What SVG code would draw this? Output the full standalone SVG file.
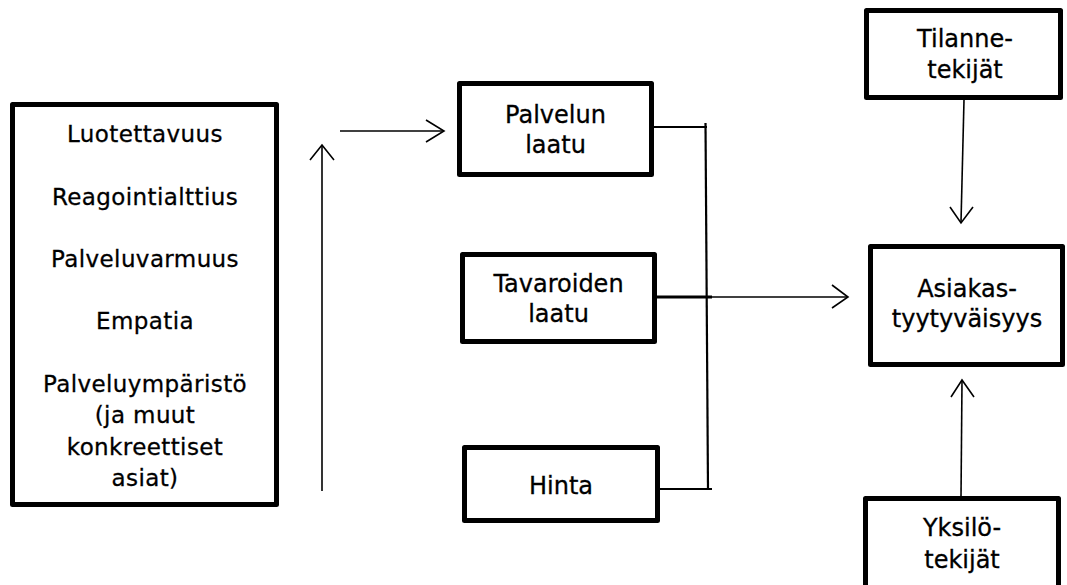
<svg xmlns="http://www.w3.org/2000/svg" width="1067" height="585" viewBox="0 0 1067 585">
  <style>
    .box { fill: #ffffff; stroke: #000000; stroke-width: 5; stroke-linejoin: round; }
    .lbl { font-family: "DejaVu Sans", "Liberation Sans", sans-serif; font-size: 24px; fill: #000000; stroke: #000000; stroke-width: 0.3; text-anchor: middle; }
    .lst { font-family: "DejaVu Sans", "Liberation Sans", sans-serif; font-size: 23px; letter-spacing: 0.4px; fill: #000000; stroke: #000000; stroke-width: 0.3; text-anchor: middle; }
    .ln { fill: none; stroke: #000000; stroke-width: 1.6; stroke-linecap: butt; }
    .lnb { fill: none; stroke: #000000; stroke-width: 2.2; }
    .head { fill: none; stroke: #000000; stroke-width: 1.6; stroke-linejoin: miter; }
  </style>

  <rect width="1067" height="585" fill="#ffffff"/>

  <!-- service quality dimensions -->
  <g id="dimensions">
    <rect class="box" x="12.5" y="104.5" width="264" height="400"/>
    <text class="lst" x="145" y="142">Luotettavuus</text>
    <text class="lst" x="145" y="205">Reagointialttius</text>
    <text class="lst" x="145" y="267">Palveluvarmuus</text>
    <text class="lst" x="145" y="329">Empatia</text>
    <text class="lst" x="145" y="392">Palveluympäristö</text>
    <text class="lst" x="145" y="423">(ja muut</text>
    <text class="lst" x="145" y="455">konkreettiset</text>
    <text class="lst" x="145" y="486">asiat)</text>
  </g>

  <g id="palvelun-laatu">
    <rect class="box" x="459.5" y="83.5" width="192" height="91"/>
    <text class="lbl" x="555.5" y="123">Palvelun</text>
    <text class="lbl" x="555.5" y="153">laatu</text>
  </g>

  <g id="tavaroiden-laatu">
    <rect class="box" x="462.5" y="254.5" width="192" height="87"/>
    <text class="lbl" x="558.5" y="292">Tavaroiden</text>
    <text class="lbl" x="558.5" y="322">laatu</text>
  </g>

  <g id="hinta">
    <rect class="box" x="464.5" y="447.5" width="193" height="73"/>
    <text class="lbl" x="561" y="494">Hinta</text>
  </g>

  <g id="tilannetekijat">
    <rect class="box" x="866.5" y="10.5" width="194" height="87"/>
    <text class="lbl" x="965" y="47">Tilanne-</text>
    <text class="lbl" x="965" y="78">tekijät</text>
  </g>

  <g id="asiakastyytyvaisyys">
    <rect class="box" x="870.5" y="246.5" width="192" height="118"/>
    <text class="lbl" x="967" y="297">Asiakas-</text>
    <text class="lbl" x="967" y="327">tyytyväisyys</text>
  </g>

  <g id="yksilotekijat">
    <rect class="box" x="865.5" y="498.5" width="193" height="100"/>
    <text class="lbl" x="962" y="536">Yksilö-</text>
    <text class="lbl" x="962" y="568">tekijät</text>
  </g>

  <g id="connectors">
    <!-- upward arrow beside the dimensions -->
    <line class="ln" x1="322" y1="491" x2="322" y2="146"/>
    <polyline class="head" points="310,160 322,145 334,160"/>
    <!-- arrow into service quality -->
    <line class="ln" x1="340" y1="131" x2="443" y2="131"/>
    <polyline class="head" points="426,120 444,131 426,142"/>
    <!-- collecting bracket -->
    <line class="lnb" x1="654" y1="127" x2="707" y2="127"/>
    <line class="lnb" x1="705.5" y1="123" x2="708" y2="489"/>
    <line class="lnb" x1="660" y1="489" x2="712" y2="489"/>
    <line x1="657" y1="297" x2="712" y2="297" stroke="#000000" stroke-width="3"/>
    <line class="ln" x1="712" y1="297" x2="847" y2="297"/>
    <polyline class="head" points="832,285 848,297 832,308"/>
    <!-- situational factors down to satisfaction -->
    <line class="ln" x1="964" y1="100" x2="961" y2="222"/>
    <polyline class="head" points="950,207 961,223 973,207"/>
    <!-- personal factors up to satisfaction -->
    <line class="ln" x1="961" y1="497" x2="962" y2="381"/>
    <polyline class="head" points="951,397 962,380 974,397"/>
  </g>
</svg>
